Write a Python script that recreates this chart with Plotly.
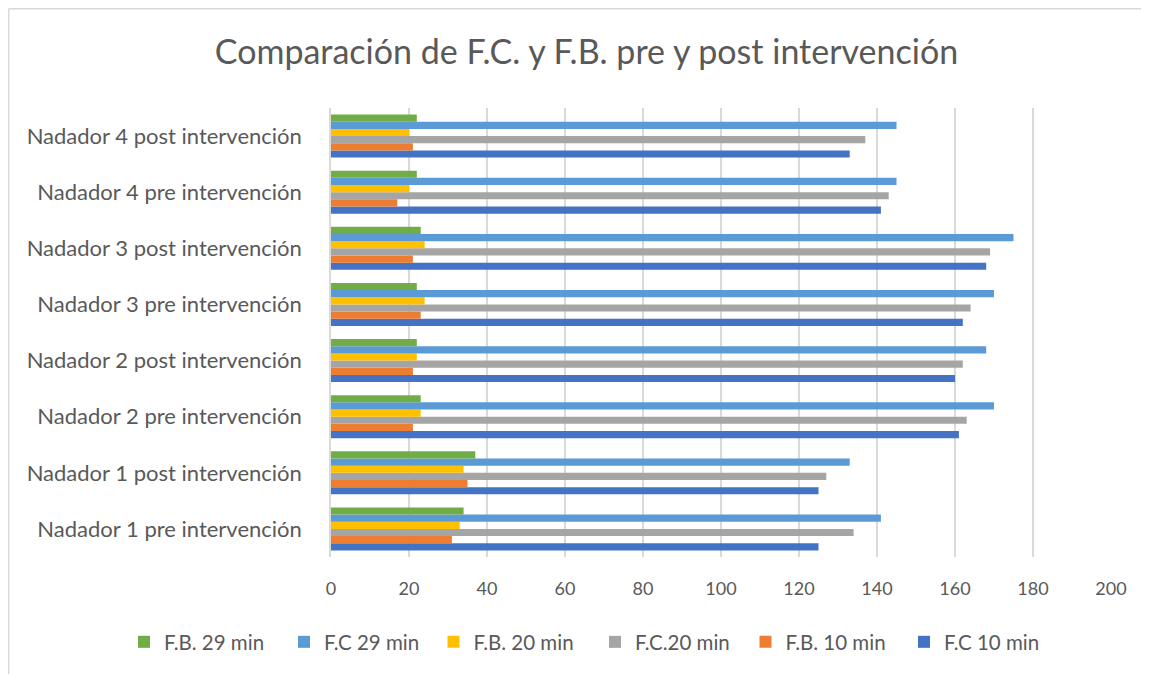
import plotly.graph_objects as go

categories = [
    "Nadador 1 pre intervención",
    "Nadador 1 post intervención",
    "Nadador 2 pre intervención",
    "Nadador 2 post intervención",
    "Nadador 3 pre intervención",
    "Nadador 3 post intervención",
    "Nadador 4 pre intervención",
    "Nadador 4 post intervención",
]

fc_10 = [125, 125, 161, 160, 162, 168, 141, 133]
fb_10 = [31, 35, 21, 21, 23, 21, 17, 21]
fc_20 = [134, 127, 163, 162, 164, 169, 143, 137]
fb_20 = [33, 34, 23, 22, 24, 24, 20, 20]
fc_29 = [141, 133, 170, 168, 170, 175, 145, 145]
fb_29 = [34, 37, 23, 22, 22, 23, 22, 22]

series_names = ["F.C 10 min", "F.B. 10 min", "F.C.20 min", "F.B. 20 min", "F.C 29 min", "F.B. 29 min"]
series_values = [fc_10, fb_10, fc_20, fb_20, fc_29, fb_29]
series_colors = ["#4472C4", "#ED7D31", "#A5A5A5", "#FFC000", "#5B9BD5", "#70AD47"]

x_ticks = [0, 20, 40, 60, 80, 100, 120, 140, 160, 180, 200]

FONT = "Lato"
W, H = 1141, 666
L, R, T, B = 323, 38, 100, 117
PW, PH = W - L - R, H - T - B

# legend marker left edges (pixels) in display order F.B.29 ... F.C 10
legend_marker_px = [132, 292, 441.5, 603, 753.5, 912]
SYMBOL_OFFSET = 16

fig = go.Figure()
legend_ids = ["legend", "legend2", "legend3", "legend4", "legend5", "legend6"]
for i, (name, vals, color) in enumerate(zip(series_names, series_values, series_colors)):
    lid = legend_ids[5 - i]
    fig.add_trace(go.Bar(
        y=categories, x=vals, name=name, orientation="h",
        marker=dict(color=color, line=dict(width=0)),
        legend=lid, showlegend=True,
    ))

legend_common = dict(
    orientation="h", xanchor="left", xref="container",
    y=32 / H, yanchor="middle", yref="container",
    font=dict(family=FONT, size=20.5, color="#595959"),
    itemwidth=30, bgcolor="rgba(0,0,0,0)",
)
legends = {}
for k, lid in enumerate(legend_ids):
    legends[lid] = dict(legend_common, x=(legend_marker_px[k] - SYMBOL_OFFSET) / W)

border = dict(color="#D9D9D9", width=1.5)
fig.update_layout(
    width=W, height=H, showlegend=True,
    paper_bgcolor="white", plot_bgcolor="white",
    barmode="group", bargap=0.233, bargroupgap=0.0,
    margin=dict(l=L, r=R, t=T, b=B),
    font=dict(family=FONT, color="#595959", size=18),
    title=dict(
        text="Comparación de F.C. y F.B. pre y post intervención",
        x=0.507, xref="container", xanchor="center",
        y=1 - 44 / H, yref="container", yanchor="middle",
        font=dict(family=FONT, size=34, color="#595959"),
    ),
    xaxis=dict(
        range=[0, 200], tickvals=x_ticks, showgrid=True,
        gridcolor="#D9D9D9", gridwidth=1.5, zeroline=False,
        showline=False, ticks="", ticklabelstandoff=19,
        tickfont=dict(size=18, color="#595959"),
    ),
    yaxis=dict(
        categoryorder="array", categoryarray=categories,
        showgrid=False, showline=True, linecolor="#D9D9D9", linewidth=1.5,
        ticks="", ticklabelstandoff=23,
        tickfont=dict(size=22, color="#595959"),
    ),
    shapes=[
        dict(type="line", xref="paper", yref="paper",
             x0=(0.7 - L) / PW, x1=(W - L) / PW,
             y0=(PH + T - 0.7) / PH, y1=(PH + T - 0.7) / PH, line=border),
        dict(type="line", xref="paper", yref="paper",
             x0=(0.7 - L) / PW, x1=(0.7 - L) / PW,
             y0=(PH + T - 0.7) / PH, y1=-B / PH, line=border),
    ],
    **legends,
)

fig.write_html("out.html")
